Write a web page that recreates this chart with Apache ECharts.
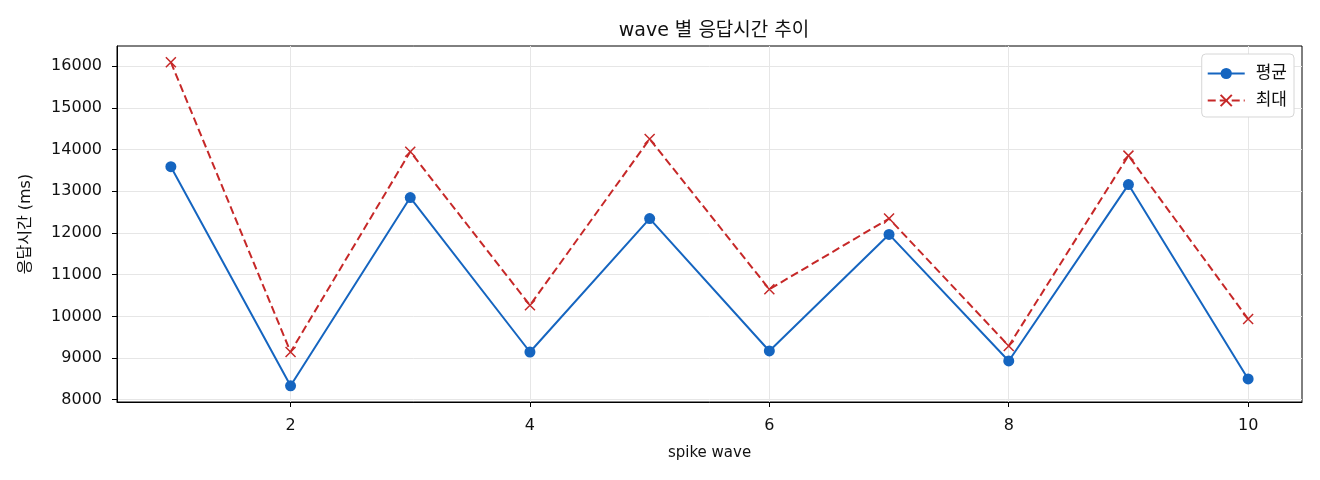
<!DOCTYPE html>
<html><head><meta charset="utf-8">
<script src="https://cdn.jsdelivr.net/npm/echarts@6/dist/echarts.min.js"></script>
<style>html,body{margin:0;padding:0;background:#fff}#c{width:1320px;height:480px}</style>
</head><body><div id="c"></div>
<script>
const waves = [1,2,3,4,5,6,7,8,9,10];
const avgValues = [13590, 8335, 12850, 9145, 12345, 9170, 11965, 8930, 13160, 8500];
const maxValues = [16095, 9145, 13950, 10265, 14255, 10650, 12345, 9290, 13855, 9935];
const xTicks = [2,4,6,8,10];
const yTicks = [8000,9000,10000,11000,12000,13000,14000,15000,16000];
const FONT = '"DejaVu Sans", "Noto Sans CJK KR", sans-serif';
const chart = echarts.init(document.getElementById('c'), null, {renderer:'canvas'});
const pair = (vals) => waves.map((w,i)=>[w, vals[i]]);
chart.setOption({
  animation:false,
  backgroundColor:'#fff',
  title:{text:'wave 별 응답시간 추이', left:709, textAlign:'center', top:17,
    textStyle:{fontFamily:FONT, fontSize:19, fontWeight:'normal', color:'#111'}},
  grid:{left:117, right:18, top:46, bottom:78, show:true, borderColor:'#000', borderWidth:1},
  legend:{right:26, top:54, orient:'vertical', itemGap:10, itemWidth:37, itemHeight:14,
    backgroundColor:'#fff', borderColor:'#d6d6d6', borderWidth:1, borderRadius:4, padding:[11,7,8,5],
    textStyle:{fontFamily:FONT, fontSize:17, color:'#111', padding:[0,0,0,6]},
    data:['평균','최대']},
  xAxis:{type:'value', min:0.55, max:10.45, name:'spike wave', nameLocation:'middle', nameGap:44,
    nameTextStyle:{fontFamily:FONT, fontSize:15, color:'#111'},
    axisLine:{show:true, lineStyle:{color:'#000'}},
    axisTick:{show:true, length:5, customValues:xTicks, lineStyle:{color:'#000'}},
    axisLabel:{customValues:xTicks, fontFamily:FONT, fontSize:16, color:'#111', margin:16},
    splitLine:{show:true, lineStyle:{color:'#e6e6e6', width:1}}},
  yAxis:{type:'value', min:7946, max:16484, name:'응답시간 (ms)', nameLocation:'middle', nameGap:83,
    nameTextStyle:{fontFamily:FONT, fontSize:16, color:'#111'},
    axisLine:{show:true, lineStyle:{color:'#000'}},
    axisTick:{show:true, length:5, customValues:yTicks, lineStyle:{color:'#000'}},
    axisLabel:{customValues:yTicks, formatter:(v)=>String(Math.round(v)), fontFamily:FONT, fontSize:16, color:'#111', margin:15},
    splitLine:{show:true, lineStyle:{color:'#e6e6e6', width:1}}},
  series:[
    {name:'평균', type:'line', data:pair(avgValues), symbol:'circle', symbolSize:11,
      lineStyle:{color:'#1565c0', width:2}, itemStyle:{color:'#1565c0'}, z:3},
    {name:'최대', type:'line', data:pair(maxValues), symbol:'path://M0,0L10,10M10,0L0,10', symbolSize:10,
      lineStyle:{color:'#c62828', width:2, type:[8,4]},
      itemStyle:{color:'none', borderColor:'#c62828', borderWidth:1.5}, z:2}
  ]
});
</script></body></html>
